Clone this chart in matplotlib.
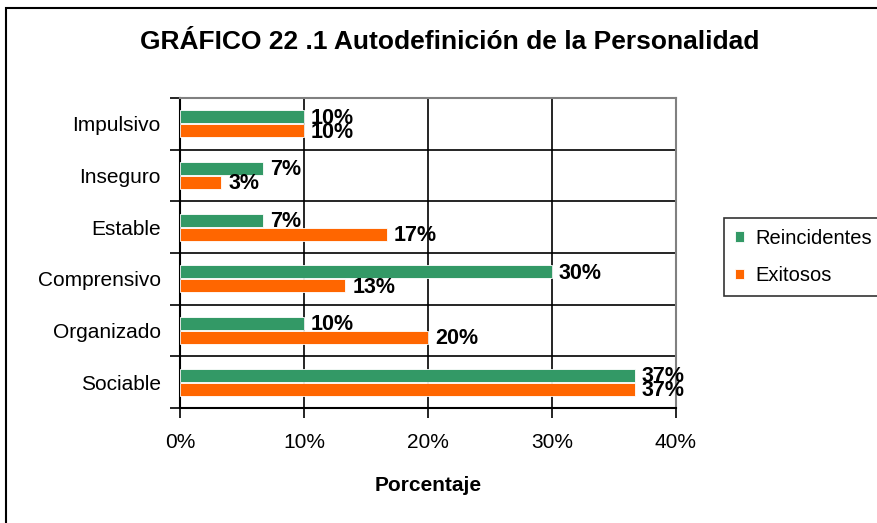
import numpy as np
import matplotlib.pyplot as plt
from matplotlib.patches import Rectangle

plt.rcParams['font.family'] = ['Liberation Sans', 'DejaVu Sans']

# Data (percent), bottom to top as drawn
categorias = ['Sociable', 'Organizado', 'Comprensivo', 'Estable', 'Inseguro', 'Impulsivo']
reincidentes = [36.67, 10.0, 30.0, 6.67, 6.67, 10.0]
exitosos = [36.67, 20.0, 13.33, 16.67, 3.33, 10.0]
xticks = [0, 10, 20, 30, 40]

verde = '#339966'
naranja = '#FF6600'

fig = plt.figure(figsize=(8.78, 5.23), dpi=100)
ax = fig.add_axes([180 / 878, 1 - 408 / 523, 496 / 878, 310 / 523])

y = np.arange(len(categorias))
h = 0.25
off = 0.135
b1 = ax.barh(y + off, reincidentes, height=h, color=verde, edgecolor='white', linewidth=0.6,
             label='Reincidentes', zorder=3)
b2 = ax.barh(y - off, exitosos, height=h, color=naranja, edgecolor='white', linewidth=0.6,
             label='Exitosos', zorder=3)

# Value labels
for bars, vals in ((b1, reincidentes), (b2, exitosos)):
    for bar, v in zip(bars, vals):
        ax.annotate(f'{v:.0f}%', (v, bar.get_y() + bar.get_height() / 2),
                    xytext=(5, -1), textcoords='offset points', va='center', ha='left',
                    fontsize=15.5, fontweight='bold', zorder=5)

ax.set_xlim(0, 40)
ax.set_ylim(-0.5, len(categorias) - 0.5)
ax.set_xticks(xticks)
ax.set_xticklabels([f'{t}%' for t in xticks], fontsize=15)
ax.set_yticks(y)
ax.set_yticklabels(categorias, fontsize=15)
ax.set_yticks(np.arange(-0.5, len(categorias), 1), minor=True)
ax.tick_params(axis='y', which='major', length=0, pad=14)
ax.tick_params(axis='y', which='minor', length=7, width=1.2, direction='out', color='black')
ax.tick_params(axis='x', length=7, width=1.2, direction='out', pad=11)

ax.grid(axis='x', which='major', color='black', linewidth=1.2, zorder=1)
ax.grid(axis='y', which='minor', color='black', linewidth=1.2, zorder=1)
ax.set_axisbelow(True)

for side in ('top', 'right'):
    ax.spines[side].set_color('#808080')
    ax.spines[side].set_linewidth(1.5)
for side in ('left', 'bottom'):
    ax.spines[side].set_color('black')
    ax.spines[side].set_linewidth(1.5)

ax.set_xlabel('Porcentaje', fontsize=15, fontweight='bold', labelpad=17)

fig.text(450 / 878, 1 - 42 / 523, 'GRÁFICO 22 .1 Autodefinición de la Personalidad',
         ha='center', va='center', fontsize=19, fontweight='bold')

leg = fig.legend(handles=[b1, b2], loc='upper left', bbox_to_anchor=(724 / 878, 1 - 218 / 523),
                 fontsize=14.5, frameon=True, fancybox=False, edgecolor='black',
                 handlelength=0.45, handleheight=0.45, handletextpad=0.55,
                 labelspacing=0.9, borderpad=0.55, borderaxespad=0)
leg.get_frame().set_linewidth(1.2)

# Outer chart border
fig.patches.append(Rectangle((6 / 878, -0.02), 1.0, 1 - 8 / 523 + 0.02,
                             transform=fig.transFigure, fill=False,
                             edgecolor='black', linewidth=1.5))

fig.savefig('out.png', dpi=100)
